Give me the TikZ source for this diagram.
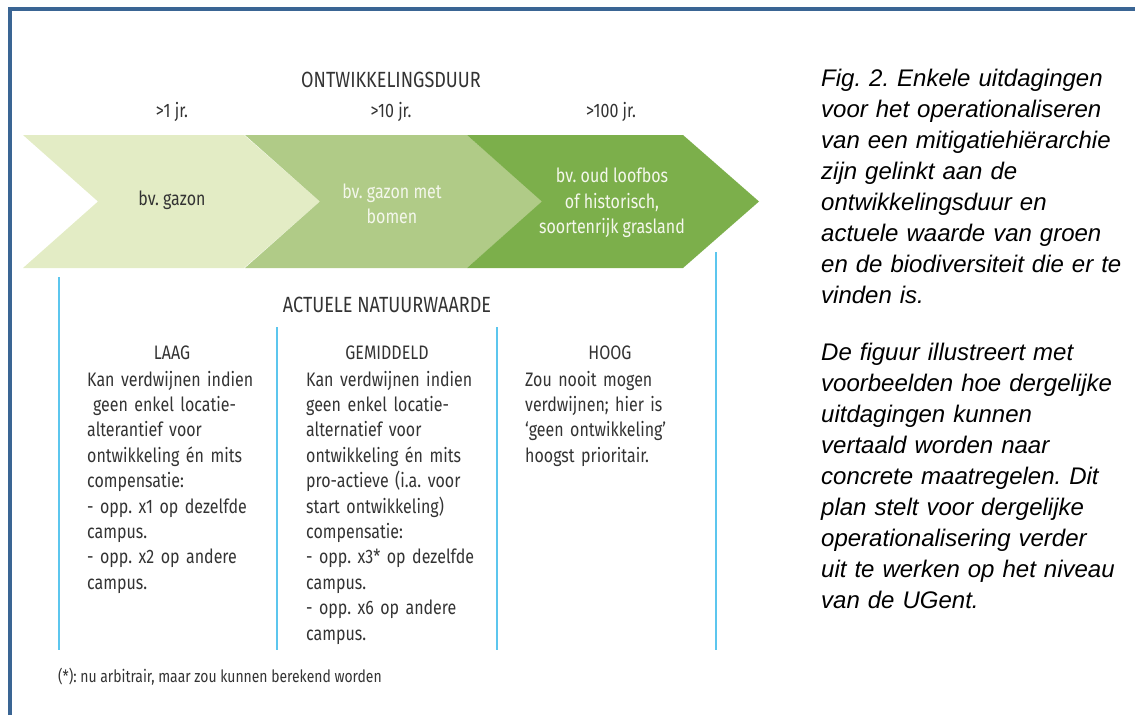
\documentclass[tikz,border=0pt]{standalone}
\usepackage{fontspec}
\setmainfont{Fira Sans}[FakeStretch=0.82]
\newfontfamily\capfont{Liberation Sans}
\frenchspacing

\definecolor{framecol}{HTML}{3A6594}
\definecolor{lightgreen}{HTML}{E3ECC5}
\definecolor{midgreen}{HTML}{B0CB87}
\definecolor{darkgreen}{HTML}{7CAF4B}
\definecolor{sepblue}{HTML}{5CC6EE}
\definecolor{txtgray}{HTML}{333333}
\definecolor{offwhite}{HTML}{F4F7EC}

\tikzset{
  head/.style={anchor=base, inner sep=0pt, text=txtgray, font=\fontsize{19.5}{25.4}\selectfont},
  bighead/.style={head, font=\fontsize{22}{25}\selectfont},
  chevtext/.style={inner sep=0pt, align=center, text=txtgray, font=\fontsize{19.5}{25.4}\selectfont},
  body/.style={anchor=base west, inner sep=0pt, text width=205pt, align=left, text=txtgray, font=\fontsize{19.5}{25.4}\selectfont},
  note/.style={anchor=base west, inner sep=0pt, text=txtgray, font=\fontsize{17}{20}\selectfont},
  caption/.style={anchor=base west, inner sep=0pt, text width=320pt, align=left, font=\capfont\itshape\fontsize{24}{31}\selectfont},
  sep/.style={sepblue, line width=2pt}
}

\begin{document}
\begin{tikzpicture}[x=1pt,y=-1pt]
    \useasboundingbox (0,0) rectangle (1135,715);
    \draw[framecol, line width=4pt] (10,715) -- (10,9) -- (1135,9);
    % chevrons
    \foreach \l/\r/\col in {23/244/lightgreen, 245/467/midgreen, 467/683/darkgreen}
    \fill[\col] (\l,135) -- (\r,135) -- (\r+76,201.5) -- (\r,268) -- (\l,268) -- (\l+75,201.5) -- cycle;
    \node[bighead] (duur) at (391,87) {ONTWIKKELINGSDUUR};
    \node[head] (jr1) at (172,117) {>1 jr.};
    \node[head] (jr10) at (391,117) {>10 jr.};
    \node[head] (jr100) at (611,117) {>100 jr.};
    \node[chevtext] (gazon) at (172,200) {bv. gazon};
    \node[chevtext, text=offwhite] (bomen) at (392,204) {bv. gazon met\\bomen};
    \node[chevtext, text=offwhite] (loofbos) at (612,203) {bv. oud loofbos\\of historisch,\\soortenrijk grasland};
    % separators
    \draw[sep] (59,277) -- (59,650);
    \draw[sep] (716,252) -- (716,650);
    \foreach \x in {277,497}
    \draw[sep] (\x,327) -- (\x,650);
    \node[bighead] (waarde) at (387,312) {ACTUELE NATUURWAARDE};
    \node[head] (laag) at (172,359) {LAAG};
    \node[head] (gemiddeld) at (387,359) {GEMIDDELD};
    \node[head] (hoog) at (610,359) {HOOG};
    \node[body] (laagtxt) at (87,386) {Kan verdwijnen indien\\
      \hspace*{0.3em}geen enkel locatie-\\
      alterantief voor\\
      ontwikkeling én mits\\
      compensatie:\\
      - opp. x1 op dezelfde\\
      campus.\\
      - opp. x2 op andere\\
      campus.};
    \node[body] (gemtxt) at (306,386) {Kan verdwijnen indien\\
      geen enkel locatie-\\
      alternatief voor\\
      ontwikkeling én mits\\
      pro-actieve (i.a. voor\\
      start ontwikkeling)\\
      compensatie:\\
      - opp. x3* op dezelfde\\
      campus.\\
      - opp. x6 op andere\\
      campus.};
    \node[body] (hoogtxt) at (525,386) {Zou nooit mogen\\
      verdwijnen; hier is\\
      ‘geen ontwikkeling’\\
      hoogst prioritair.};
    \node[note] (voetnoot) at (58,682) {(*): nu arbitrair, maar zou kunnen berekend worden};
    % caption
    \node[caption] (fig) at (821,86) {Fig. 2. Enkele uitdagingen\\
      voor het operationaliseren\\
      van een mitigatiehiërarchie\\
      zijn gelinkt aan de\\
      ontwikkelingsduur en\\
      actuele waarde van groen\\
      en de biodiversiteit die er te\\
      vinden is.};
    \node[caption] (uitleg) at (821,360) {De figuur illustreert met\\
      voorbeelden hoe dergelijke\\
      uitdagingen kunnen\\
      vertaald worden naar\\
      concrete maatregelen. Dit\\
      plan stelt voor dergelijke\\
      operationalisering verder\\
      uit te werken op het niveau\\
      van de UGent.};
\end{tikzpicture}
\end{document}
